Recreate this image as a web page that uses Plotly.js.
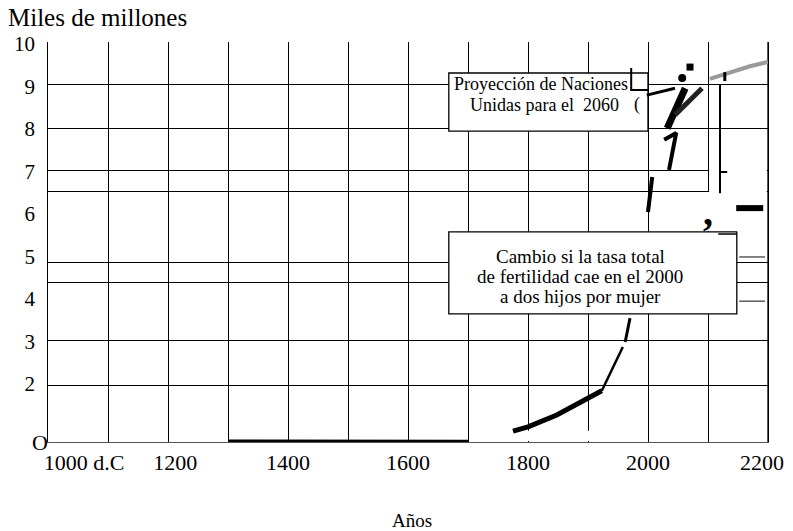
<!DOCTYPE html>
<html>
<head>
<meta charset="utf-8">
<script src="https://cdn.plot.ly/plotly-3.0.1.min.js"></script>
<style>html,body{margin:0;padding:0;background:#fff;}#chart{width:793px;height:531px;}</style>
</head>
<body>
<div id="chart"></div>
<script>
// ---- tick labels ----
const xTickPos = [1060, 1212, 1400, 1600, 1800, 2000, 2190];
const xTickText = ['1000 d.C', '1200', '1400', '1600', '1800', '2000', '2200'];
const yTickVals = [2, 3, 4, 5, 6, 7, 8, 9, 10];
const yTickText = ['2', '3', '4', '5', '6', '7', '8', '9', '10'];
const yGridVals = [1.97, 3.03, 4.4, 4.87, 6.52, 7.03, 8.02, 9.05];

// ---- series (years, thousands of millions) ----
const baseYears = [1300, 1400, 1500, 1600, 1700];
const baseVals = [0.645, 0.64, 0.64, 0.64, 0.64];
const riseYears = [1775, 1800, 1848, 1903, 1923];
const riseVals = [0.89, 0.99, 1.27, 1.69, 1.84];
const riseThinYears = [1923, 1958];
const riseThinVals = [1.84, 2.87];
const riseUpYears = [1962, 1970];
const riseUpVals = [2.99, 3.55];
const modernYears = [2000, 2007];
const modernVals = [6.05, 6.87];
const oneYears = [2027, 2047, 2035];
const oneVals = [7.75, 7.91, 7.04];
const vMainYears = [2032, 2062];
const vMainVals = [8.02, 8.96];
const vSecondYears = [2045, 2090];
const vSecondVals = [8.33, 8.96];
const armYears = [1998, 2045];
const armVals = [8.8, 8.96];
const dotYears = [2057];
const dotVals = [9.2];
const squareYears = [2070];
const squareVals = [9.46];
const unYears = [2103, 2137, 2170, 2200];
const unVals = [9.18, 9.34, 9.48, 9.58];
const smallStrokeYears = [2128, 2128];
const smallStrokeVals = [9.13, 9.34];
const rightVertYears = [2120, 2120, null, 2120, 2132];
const rightVertVals = [6.49, 9.06, null, 6.99, 6.99];
const dashYears = [2147, 2192];
const dashVals = [6.14, 6.14];
const underYears = [2117, 2148];
const underVals = [5.53, 5.53];
const rightTickYears = [2152, 2195, null, 2152, 2195];
const rightTickVals = [4.99, 4.99, null, 3.95, 3.95];
const bracketYears = [1972, 1972, 2000];
const bracketVals = [9.44, 8.92, 8.92];

const serif = '"Liberation Serif", "Times New Roman", serif';

function line(x, y, w, color) {
  return {x: x, y: y, mode: 'lines', type: 'scatter', line: {color: color || '#000', width: w},
          hoverinfo: 'skip', showlegend: false, connectgaps: false};
}

const traces = [
  line(baseYears, baseVals, 4),
  line(riseYears, riseVals, 5),
  line(riseThinYears, riseThinVals, 2.5),
  line(riseUpYears, riseUpVals, 3),
  line(modernYears, modernVals, 4),
  line(oneYears, oneVals, 4),
  line(vMainYears, vMainVals, 7),
  line(vSecondYears, vSecondVals, 5, '#222'),
  line(armYears, armVals, 3),
  line(unYears, unVals, 4, '#9a9a9a'),
  line(smallStrokeYears, smallStrokeVals, 3),
  line(rightVertYears, rightVertVals, 2),
  line(dashYears, dashVals, 6),
  line(underYears, underVals, 1.5),
  line(rightTickYears, rightTickVals, 1.2, '#333'),
  line(bracketYears, bracketVals, 2),
  {x: dotYears, y: dotVals, mode: 'markers', type: 'scatter', marker: {color: '#000', size: 8},
   hoverinfo: 'skip', showlegend: false},
  {x: squareYears, y: squareVals, mode: 'markers', type: 'scatter', marker: {color: '#000', size: 7, symbol: 'square'},
   hoverinfo: 'skip', showlegend: false},
  // invisible point so the label axes are drawn
  {x: [1000], y: [5], xaxis: 'x2', yaxis: 'y2', mode: 'markers', marker: {opacity: 0}, hoverinfo: 'skip', showlegend: false}
];

const layout = {
  width: 793, height: 531,
  margin: {l: 48, r: 25, t: 42, b: 89},
  paper_bgcolor: '#fff', plot_bgcolor: '#fff',
  font: {family: serif, color: '#000', size: 18},
  xaxis: {range: [1000, 2200], tickmode: 'linear', tick0: 1000, dtick: 100, showticklabels: false,
          showgrid: true, gridcolor: '#000', gridwidth: 1, zeroline: false,
          showline: true, linecolor: '#555', linewidth: 1.2, mirror: false, ticks: '', fixedrange: true},
  yaxis: {range: [0.635, 10.05], tickmode: 'array', tickvals: yGridVals, showticklabels: false,
          showgrid: true, gridcolor: '#000', gridwidth: 1, zeroline: false,
          showline: true, linecolor: '#000', linewidth: 1.3, mirror: true, ticks: '', fixedrange: true},
  xaxis2: {overlaying: 'x', range: [1000, 2200], tickmode: 'array', tickvals: xTickPos, ticktext: xTickText,
           showgrid: false, zeroline: false, showline: false, ticks: '', side: 'bottom',
           tickfont: {family: serif, size: 22, color: '#000'}, ticklabelstandoff: 5, fixedrange: true},
  yaxis2: {overlaying: 'y', range: [0.635, 10.05], tickmode: 'array', tickvals: yTickVals, ticktext: yTickText,
           showgrid: false, zeroline: false, showline: false, ticks: '', side: 'left',
           tickfont: {family: serif, size: 21, color: '#000'}, ticklabelstandoff: 12, fixedrange: true},
  shapes: [
    {type: 'line', xref: 'x', yref: 'y', x0: 2200, x1: 2200, y0: 0.635, y1: 10.05, line: {color: '#000', width: 1.3}, layer: 'between'},
    // gaps in the scanned grid
    {type: 'rect', xref: 'x', yref: 'y', x0: 2102, x1: 2198, y0: 6.3, y1: 7.3, fillcolor: '#fff', line: {width: 0}, layer: 'between'},
    {type: 'rect', xref: 'x', yref: 'y', x0: 2095, x1: 2105, y0: 5.6, y1: 6.52, fillcolor: '#fff', line: {width: 0}, layer: 'between'},
    {type: 'rect', xref: 'x', yref: 'y', x0: 1780, x1: 1920, y0: 0.66, y1: 0.9, fillcolor: '#fff', line: {width: 0}, layer: 'between'},
    // text boxes (above the grid, below the drawn strokes)
    {type: 'rect', xref: 'x', yref: 'y', x0: 1668, x1: 2000, y0: 7.95, y1: 9.32, fillcolor: '#fff', line: {color: '#000', width: 1.3}, layer: 'between'},
    {type: 'rect', xref: 'x', yref: 'y', x0: 1668, x1: 2148, y0: 3.65, y1: 5.58, fillcolor: '#fff', line: {color: '#000', width: 1.3}, layer: 'between'}
  ],
  annotations: [
    {xref: 'paper', yref: 'paper', x: -0.058, y: 1.0625, xanchor: 'left', yanchor: 'middle', showarrow: false,
     text: 'Miles de millones', font: {family: serif, size: 25}},
    {xref: 'paper', yref: 'paper', x: 0.5056, y: -0.195, xanchor: 'center', yanchor: 'middle', showarrow: false,
     text: 'Años', font: {family: serif, size: 19}},
    {xref: 'paper', yref: 'paper', x: -0.011, y: 0.0, xanchor: 'center', yanchor: 'middle', showarrow: false,
     text: 'O', font: {family: serif, size: 22}},
    {xref: 'x', yref: 'y', x: 1822, y: 9.06, showarrow: false, text: 'Proyección de Naciones', font: {family: serif, size: 18}},
    {xref: 'x', yref: 'y', x: 1827, y: 8.57, showarrow: false, text: 'Unidas para el  2060', font: {family: serif, size: 18}},
    {xref: 'x', yref: 'y', x: 1982, y: 8.57, showarrow: false, text: '(', font: {family: serif, size: 18}},
    {xref: 'x', yref: 'y', x: 1887, y: 4.99, showarrow: false, text: 'Cambio si la tasa total', font: {family: serif, size: 19}},
    {xref: 'x', yref: 'y', x: 1887, y: 4.52, showarrow: false, text: 'de fertilidad cae en el 2000', font: {family: serif, size: 19}},
    {xref: 'x', yref: 'y', x: 1887, y: 4.05, showarrow: false, text: 'a dos hijos por mujer', font: {family: serif, size: 19}},
    {xref: 'x', yref: 'y', x: 2100, y: 6.05, showarrow: false, text: '<b>,</b>', font: {family: serif, size: 40}}
  ]
};

Plotly.newPlot('chart', traces, layout, {staticPlot: true, displayModeBar: false});
</script>
</body>
</html>
